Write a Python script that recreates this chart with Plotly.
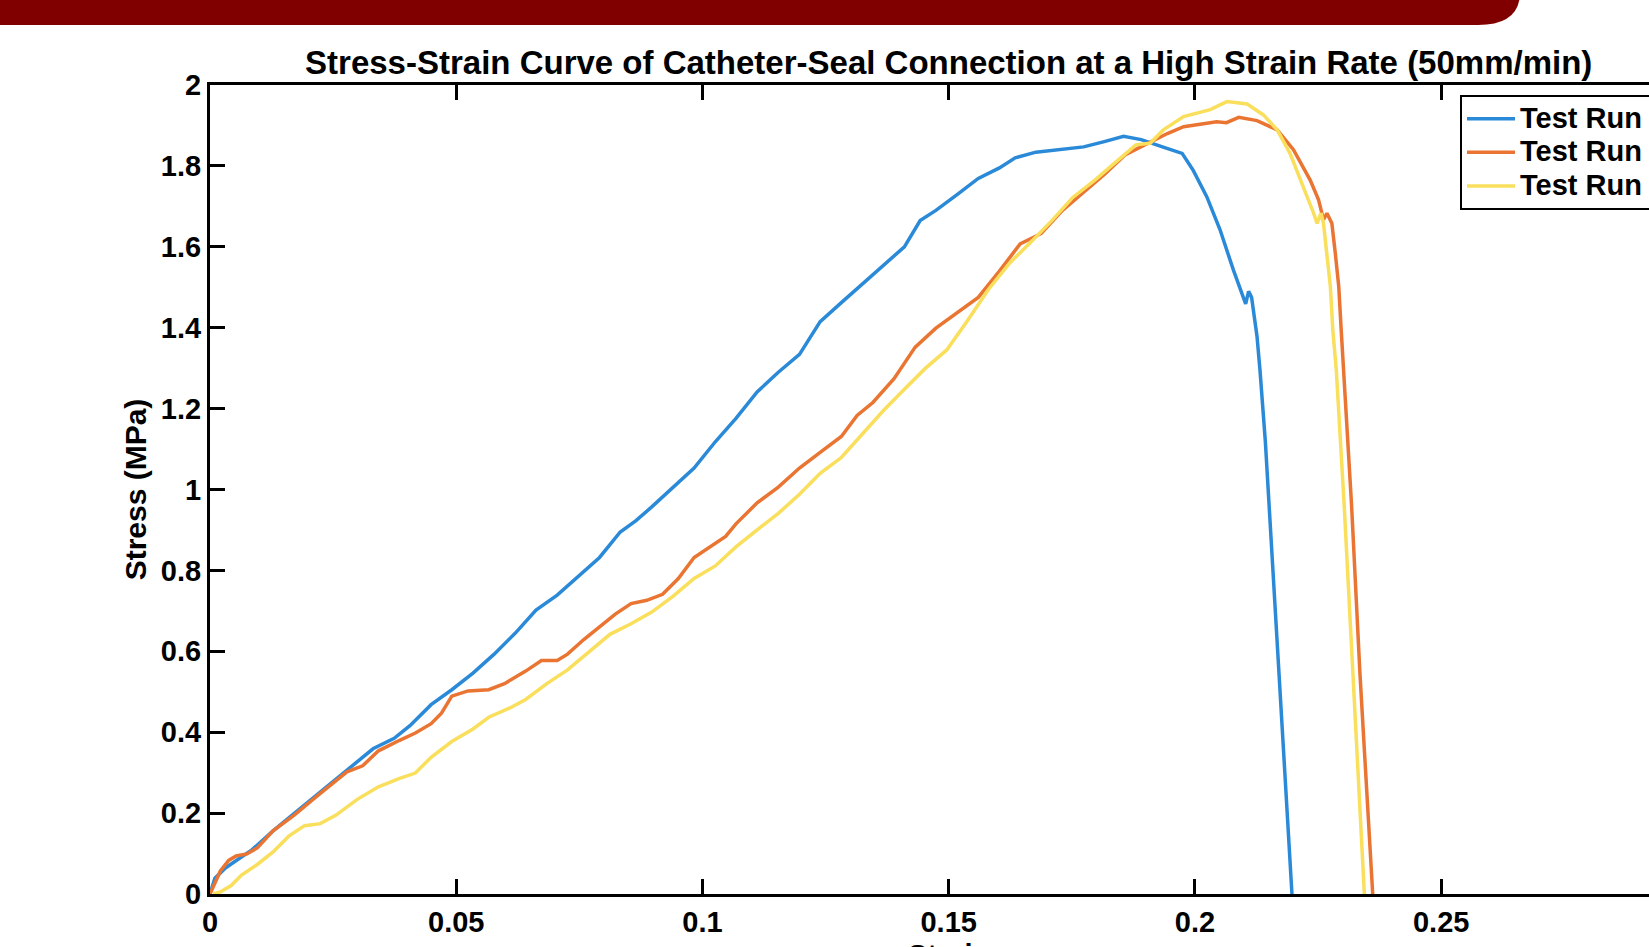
import plotly.graph_objects as go

# ---- data ----
run1_strain = [0.0, 0.001, 0.0032, 0.0053, 0.0085, 0.0128, 0.017, 0.0214, 0.0256, 0.0299, 0.0331,
               0.0374, 0.0406, 0.0449, 0.0491, 0.0534, 0.0577, 0.062, 0.0662, 0.0705, 0.0748,
               0.0791, 0.0833, 0.0865, 0.0897, 0.094, 0.0983, 0.1026, 0.1068, 0.1111, 0.1154,
               0.1197, 0.1239, 0.1282, 0.1325, 0.1368, 0.141, 0.1442, 0.1474, 0.1517, 0.156,
               0.1603, 0.1635, 0.1677, 0.1731, 0.1774, 0.1816, 0.1855, 0.1891, 0.1908, 0.1934,
               0.1974, 0.1996, 0.2024, 0.2051, 0.2078, 0.2103, 0.2109, 0.2115, 0.2126, 0.2132,
               0.2143, 0.2158, 0.2173, 0.2186, 0.2197]
run1_stress = [0.0, 0.039, 0.065, 0.083, 0.109, 0.156, 0.198, 0.242, 0.283, 0.325, 0.359,
               0.385, 0.416, 0.468, 0.505, 0.546, 0.593, 0.645, 0.702, 0.739, 0.785,
               0.832, 0.895, 0.923, 0.957, 1.004, 1.053, 1.118, 1.176, 1.241, 1.29,
               1.334, 1.415, 1.462, 1.508, 1.555, 1.6, 1.665, 1.69, 1.729, 1.769,
               1.795, 1.82, 1.834, 1.841, 1.847, 1.86, 1.873, 1.865, 1.857, 1.847,
               1.831, 1.79, 1.724, 1.642, 1.543, 1.459, 1.49, 1.475, 1.379, 1.296,
               1.118, 0.806, 0.494, 0.234, 0.0]

run2_strain = [0.0, 0.0021, 0.0038, 0.0053, 0.0075, 0.0096, 0.0128, 0.0171, 0.0214, 0.0256, 0.0278,
               0.031, 0.0342, 0.0385, 0.0417, 0.0449, 0.047, 0.0491, 0.0524, 0.0566, 0.0598,
               0.0641, 0.0673, 0.0705, 0.0726, 0.0759, 0.0791, 0.0823, 0.0855, 0.0887, 0.0919,
               0.0951, 0.0983, 0.1015, 0.1047, 0.1068, 0.1111, 0.1154, 0.1197, 0.1239, 0.1282,
               0.1314, 0.1346, 0.1389, 0.1432, 0.1474, 0.1517, 0.156, 0.1603, 0.1645, 0.1688,
               0.1731, 0.1774, 0.1816, 0.1859, 0.1902, 0.1944, 0.1977, 0.2009, 0.2044, 0.2064,
               0.2089, 0.2126, 0.2167, 0.22, 0.2234, 0.2251, 0.2261, 0.2268, 0.2278, 0.2285,
               0.2292, 0.2297, 0.2302, 0.2318, 0.2335, 0.235, 0.2361]
run2_stress = [0.0, 0.057, 0.083, 0.094, 0.099, 0.114, 0.156, 0.195, 0.239, 0.281, 0.302,
               0.317, 0.354, 0.38, 0.398, 0.421, 0.447, 0.489, 0.502, 0.505, 0.52,
               0.551, 0.577, 0.577, 0.593, 0.629, 0.661, 0.692, 0.718, 0.726, 0.741,
               0.78, 0.832, 0.858, 0.884, 0.915, 0.967, 1.006, 1.053, 1.092, 1.131,
               1.183, 1.215, 1.274, 1.352, 1.399, 1.436, 1.475, 1.54, 1.607, 1.633,
               1.69, 1.735, 1.779, 1.828, 1.854, 1.88, 1.897, 1.902, 1.909, 1.907,
               1.92, 1.912, 1.889, 1.84, 1.765, 1.716, 1.667, 1.683, 1.658, 1.584,
               1.502, 1.394, 1.296, 0.962, 0.546, 0.234, 0.0]

run3_strain = [0.0006, 0.0021, 0.0043, 0.0064, 0.0096, 0.0128, 0.016, 0.0192, 0.0224, 0.0256, 0.0299,
               0.0342, 0.0385, 0.0417, 0.0449, 0.0491, 0.0534, 0.0566, 0.0609, 0.0641, 0.0684,
               0.0726, 0.0769, 0.0812, 0.0855, 0.0897, 0.094, 0.0983, 0.1026, 0.1068, 0.1111,
               0.1154, 0.1197, 0.1239, 0.1282, 0.1325, 0.1368, 0.141, 0.1453, 0.1496, 0.1538,
               0.1581, 0.1624, 0.1667, 0.1709, 0.1752, 0.1795, 0.1838, 0.188, 0.1909, 0.1936,
               0.1977, 0.2031, 0.2065, 0.2106, 0.2139, 0.2167, 0.2193, 0.222, 0.2241, 0.2248,
               0.2256, 0.2261, 0.2268, 0.2275, 0.228, 0.2287, 0.2303, 0.2321, 0.2333, 0.2344]
run3_stress = [0.0, 0.005, 0.021, 0.047, 0.073, 0.104, 0.143, 0.169, 0.174, 0.195, 0.234,
               0.265, 0.286, 0.299, 0.338, 0.377, 0.408, 0.437, 0.46, 0.481, 0.52,
               0.554, 0.598, 0.642, 0.668, 0.697, 0.736, 0.78, 0.811, 0.858, 0.9,
               0.941, 0.988, 1.04, 1.079, 1.139, 1.196, 1.248, 1.3, 1.345, 1.417,
               1.495, 1.56, 1.612, 1.664, 1.722, 1.763, 1.808, 1.852, 1.856, 1.889,
               1.922, 1.939, 1.959, 1.953, 1.926, 1.889, 1.831, 1.749, 1.683, 1.658,
               1.683, 1.658, 1.584, 1.502, 1.394, 1.296, 0.962, 0.546, 0.234, 0.0]

series_names = ["Test Run 1", "Test Run 2", "Test Run 3"]
series_colors = ["#2b8ad8", "#ea7532", "#f9df5c"]

x_tick_vals = [0, 0.05, 0.1, 0.15, 0.2, 0.25]
x_tick_text = ["0", "0.05", "0.1", "0.15", "0.2", "0.25"]
y_tick_vals = [0, 0.2, 0.4, 0.6, 0.8, 1.0, 1.2, 1.4, 1.6, 1.8, 2.0]
y_tick_text = ["0", "0.2", "0.4", "0.6", "0.8", "1", "1.2", "1.4", "1.6", "1.8", "2"]

title_text = "Stress-Strain Curve of Catheter-Seal Connection at a High Strain Rate (50mm/min)"
x_label = "Strain"
y_label = "Stress (MPa)"

# ---- figure ----
W, H = 1649, 947
L, T, B = 210, 85, 53
FONT = "Liberation Sans, Arial, Helvetica, sans-serif"

fig = go.Figure()
for xs, ys, name, col in zip([run1_strain, run2_strain, run3_strain],
                             [run1_stress, run2_stress, run3_stress],
                             series_names, series_colors):
    fig.add_trace(go.Scatter(x=xs, y=ys, mode="lines",
                             name='<span style="font-size:29px">' + name + '</span>',
                             line=dict(color=col, width=3.5)))

plot_w = W - L
x_max = 0.2922


def px_x(p):
    return (p - L) / plot_w


def px_y(p):
    return (H - B - p) / (H - T - B)


fig.update_layout(
    width=W, height=H,
    margin=dict(l=L, r=0, t=T, b=B, pad=0, autoexpand=False),
    paper_bgcolor="white", plot_bgcolor="white",
    font=dict(family=FONT, size=29, color="black", weight="bold"),
    title=dict(text="<b>" + title_text + "</b>", font=dict(size=33, family=FONT, color="black"),
               xref="container", x=(L + 0.15 / x_max * plot_w) / W, xanchor="center",
               yref="container", y=1 - 62 / H, yanchor="middle"),
    showlegend=True,
    legend=dict(x=px_x(1460), y=px_y(95), xanchor="left", yanchor="top",
                bgcolor="white", bordercolor="black", borderwidth=2,
                font=dict(size=23.5, family=FONT, color="black", weight="bold"),
                itemwidth=48, tracegroupgap=0),
    xaxis=dict(range=[0, x_max], tickvals=x_tick_vals, ticktext=x_tick_text,
               ticks="inside", ticklen=15, tickwidth=2.5, tickcolor="black",
               showline=True, linecolor="black", linewidth=3, mirror="ticks",
               showgrid=False, zeroline=False, automargin=False,
               tickfont=dict(size=29, family=FONT, color="black", weight="bold")),
    yaxis=dict(range=[0, 2], tickvals=y_tick_vals, ticktext=y_tick_text,
               ticks="inside", ticklen=15, tickwidth=2.5, tickcolor="black",
               showline=True, linecolor="black", linewidth=3, mirror=False,
               showgrid=False, zeroline=False, automargin=False,
               tickfont=dict(size=29, family=FONT, color="black", weight="bold"),
               title=dict(text="<b>" + y_label + "</b>", standoff=6,
                          font=dict(size=30, family=FONT, color="black"))),
)

# banner at the top (rounded bottom-right corner)
banner_path = ("M {x0},{y0} L {x1},{y0} Q {xc},{y1} {x2},{y1} L {x0},{y1} Z").format(
    x0=px_x(-5), y0=px_y(-5), x1=px_x(1520), xc=px_x(1518), x2=px_x(1478), y1=px_y(25))
fig.add_shape(type="path", path=banner_path, xref="paper", yref="paper",
              fillcolor="#800000", line=dict(width=0), layer="above")

fig.add_annotation(text="<b>" + x_label + "</b>", x=0.15, xref="x", y=px_y(937), yref="paper",
                   xanchor="center", yanchor="top", showarrow=False,
                   font=dict(size=29, family=FONT, color="black"))

fig.write_html("out.html", config={"displayModeBar": False},
               post_script="document.body.style.margin='0px';")
